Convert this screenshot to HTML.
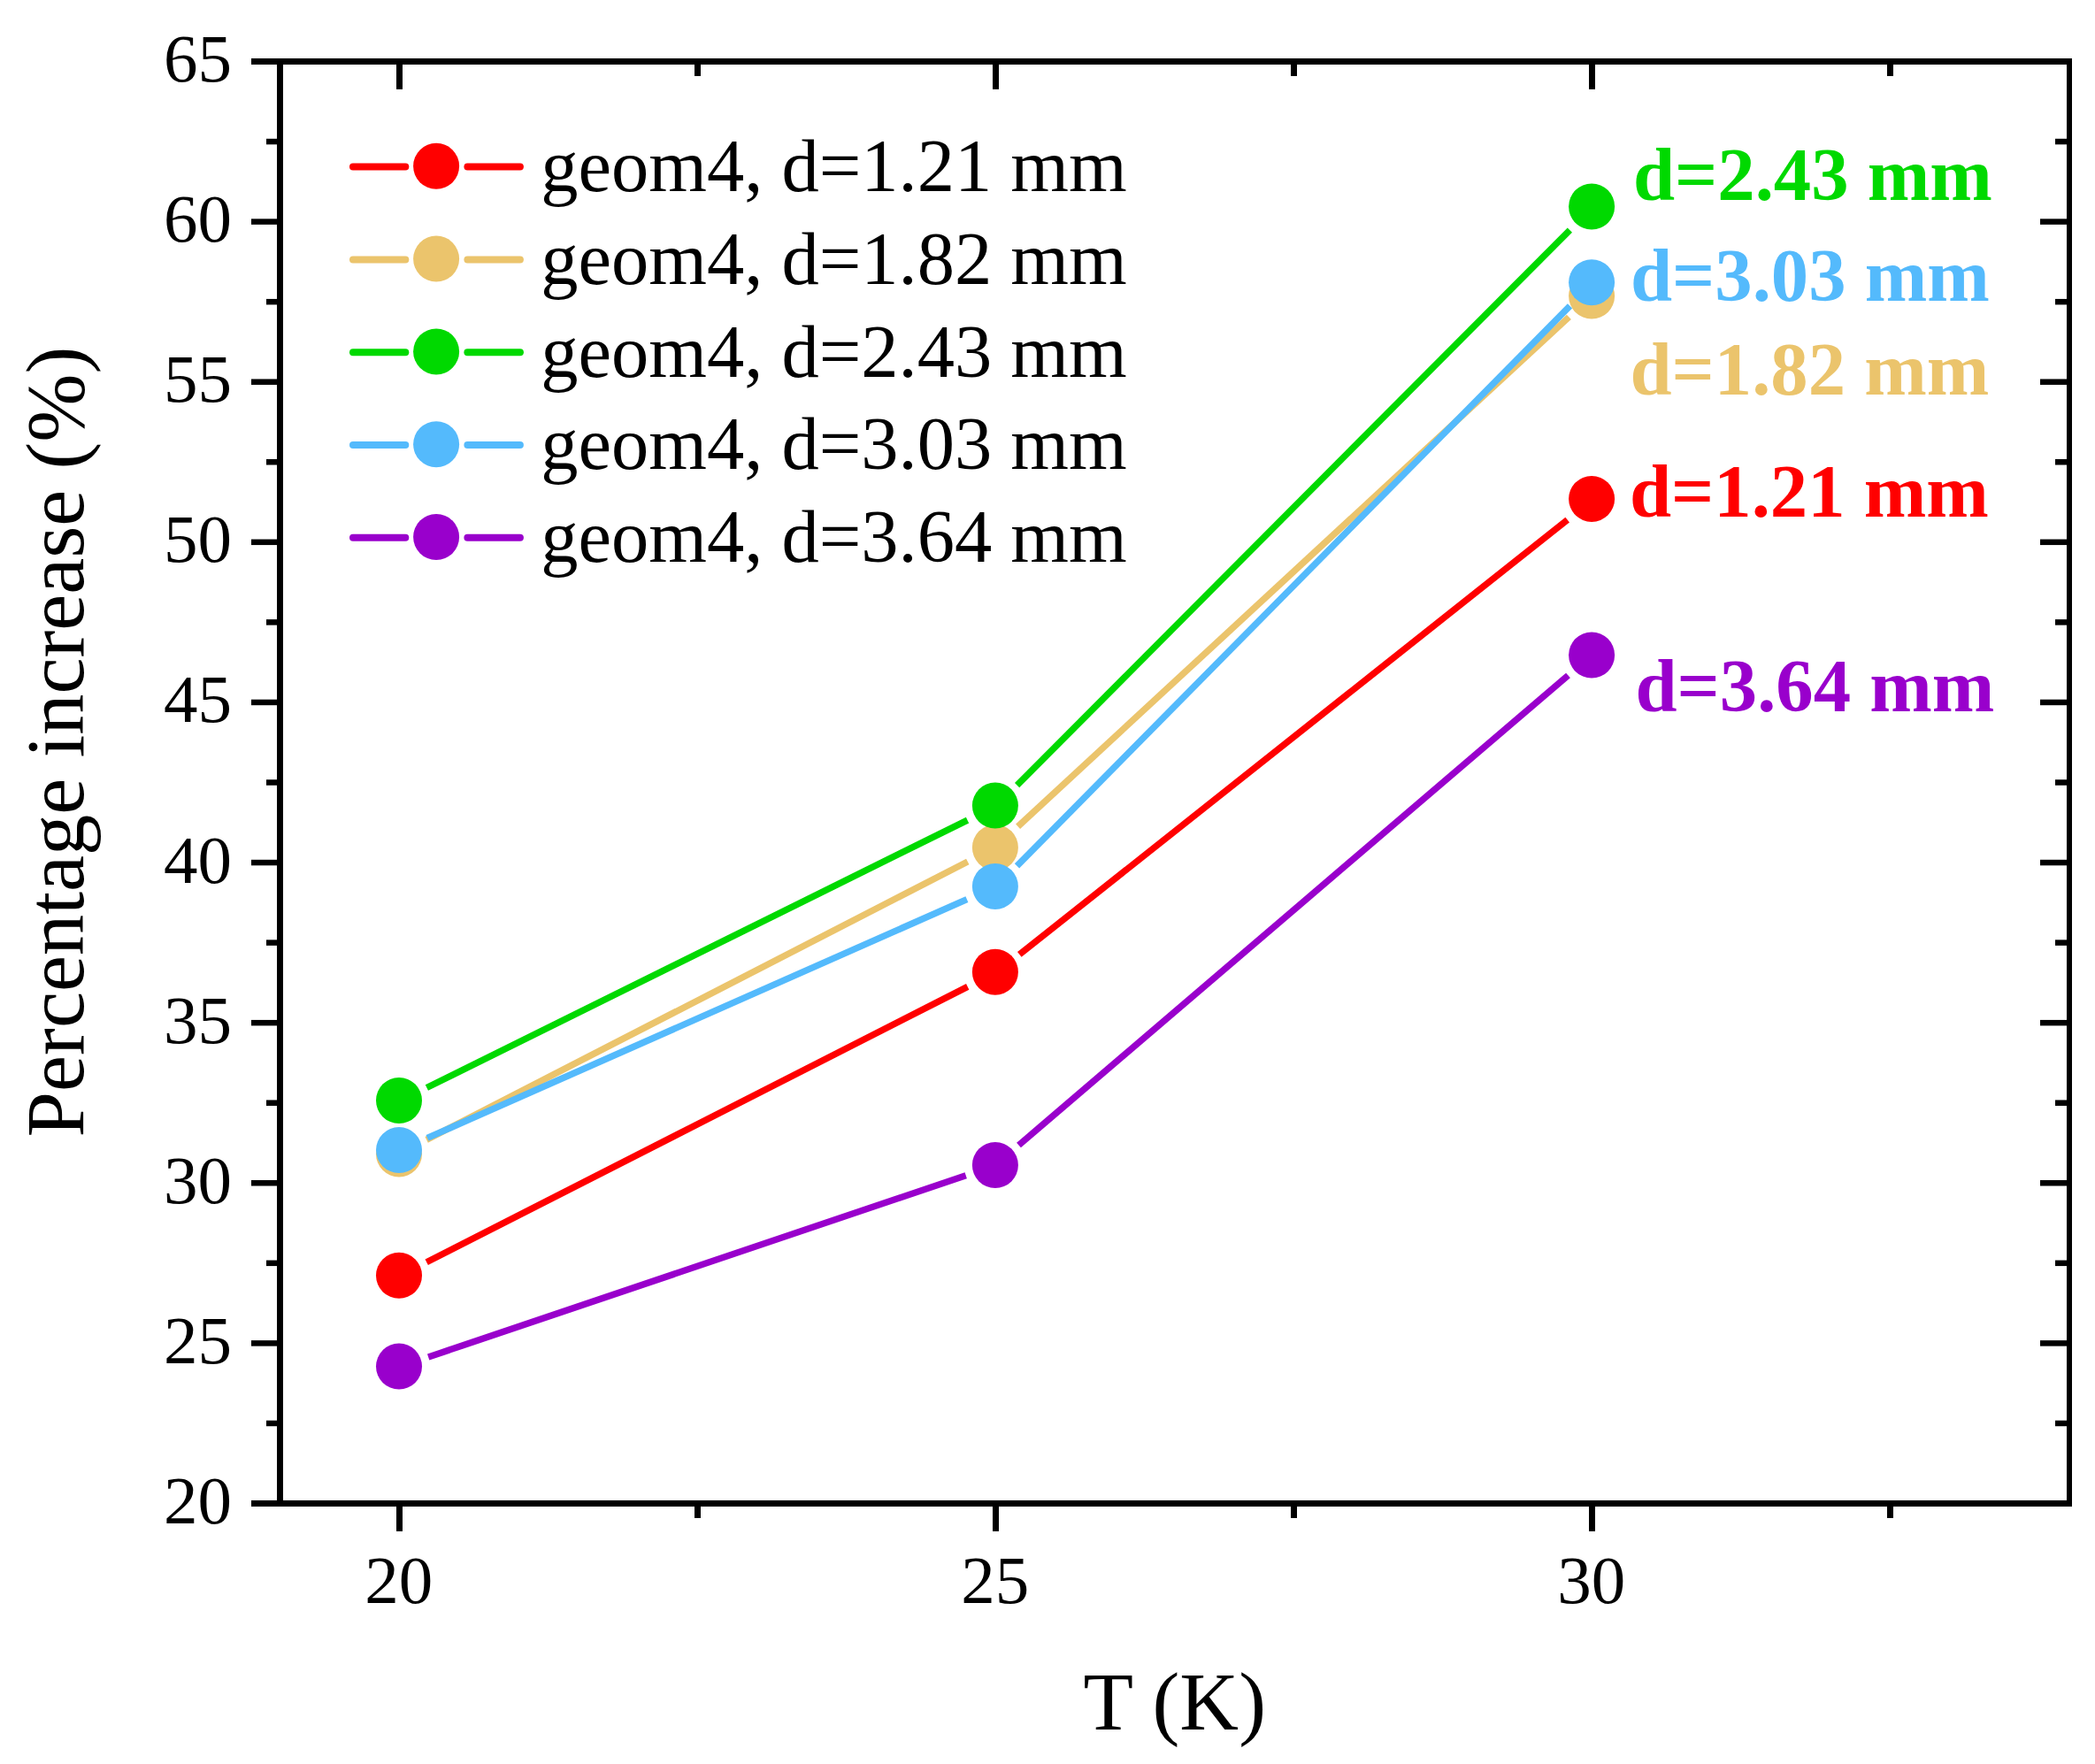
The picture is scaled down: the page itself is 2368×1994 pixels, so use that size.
<!DOCTYPE html>
<html lang="en"><head><meta charset="utf-8"><title>Percentage increase vs T</title>
<style>html,body{margin:0;padding:0;background:#fff;}svg{display:block;}text{font-family:"Liberation Serif", "Times New Roman", Times, serif;}</style></head><body>
<svg width="2368" height="1994" viewBox="0 0 2368 1994" role="img" aria-label="Percentage increase versus temperature">
<rect x="0" y="0" width="2368" height="1994" fill="#ffffff"/>
<g fill="#000000" shape-rendering="crispEdges">
<rect x="284" y="66" width="2058" height="7"/>
<rect x="284" y="1696" width="2058" height="7"/>
<rect x="313" y="66" width="7" height="1637"/>
<rect x="2336" y="66" width="6" height="1637"/>
</g>
<g fill="#000000">
<rect x="301" y="1605.69" width="12" height="6.50"/>
<rect x="2323" y="1605.69" width="13" height="6.50"/>
<rect x="284" y="1515.14" width="29" height="6.50"/>
<rect x="2306" y="1515.14" width="30" height="6.50"/>
<rect x="301" y="1424.58" width="12" height="6.50"/>
<rect x="2323" y="1424.58" width="13" height="6.50"/>
<rect x="284" y="1334.03" width="29" height="6.50"/>
<rect x="2306" y="1334.03" width="30" height="6.50"/>
<rect x="301" y="1243.47" width="12" height="6.50"/>
<rect x="2323" y="1243.47" width="13" height="6.50"/>
<rect x="284" y="1152.92" width="29" height="6.50"/>
<rect x="2306" y="1152.92" width="30" height="6.50"/>
<rect x="301" y="1062.36" width="12" height="6.50"/>
<rect x="2323" y="1062.36" width="13" height="6.50"/>
<rect x="284" y="971.81" width="29" height="6.50"/>
<rect x="2306" y="971.81" width="30" height="6.50"/>
<rect x="301" y="881.25" width="12" height="6.50"/>
<rect x="2323" y="881.25" width="13" height="6.50"/>
<rect x="284" y="790.69" width="29" height="6.50"/>
<rect x="2306" y="790.69" width="30" height="6.50"/>
<rect x="301" y="700.14" width="12" height="6.50"/>
<rect x="2323" y="700.14" width="13" height="6.50"/>
<rect x="284" y="609.58" width="29" height="6.50"/>
<rect x="2306" y="609.58" width="30" height="6.50"/>
<rect x="301" y="519.03" width="12" height="6.50"/>
<rect x="2323" y="519.03" width="13" height="6.50"/>
<rect x="284" y="428.47" width="29" height="6.50"/>
<rect x="2306" y="428.47" width="30" height="6.50"/>
<rect x="301" y="337.92" width="12" height="6.50"/>
<rect x="2323" y="337.92" width="13" height="6.50"/>
<rect x="284" y="247.36" width="29" height="6.50"/>
<rect x="2306" y="247.36" width="30" height="6.50"/>
<rect x="301" y="156.81" width="12" height="6.50"/>
<rect x="2323" y="156.81" width="13" height="6.50"/>
<rect x="448.00" y="73" width="7" height="28"/>
<rect x="448.00" y="1703" width="7" height="28"/>
<rect x="785.00" y="73" width="7" height="13"/>
<rect x="785.00" y="1703" width="7" height="13"/>
<rect x="1122.00" y="73" width="7" height="28"/>
<rect x="1122.00" y="1703" width="7" height="28"/>
<rect x="1459.00" y="73" width="7" height="13"/>
<rect x="1459.00" y="1703" width="7" height="13"/>
<rect x="1796.00" y="73" width="7" height="28"/>
<rect x="1796.00" y="1703" width="7" height="28"/>
<rect x="2133.00" y="73" width="7" height="13"/>
<rect x="2133.00" y="1703" width="7" height="13"/>
</g>
<g font-size="77" fill="#000000">
<text x="262" y="1722.0" text-anchor="end">20</text>
<text x="262" y="1540.9" text-anchor="end">25</text>
<text x="262" y="1359.8" text-anchor="end">30</text>
<text x="262" y="1178.7" text-anchor="end">35</text>
<text x="262" y="997.6" text-anchor="end">40</text>
<text x="262" y="816.4" text-anchor="end">45</text>
<text x="262" y="635.3" text-anchor="end">50</text>
<text x="262" y="454.2" text-anchor="end">55</text>
<text x="262" y="273.1" text-anchor="end">60</text>
<text x="262" y="92.0" text-anchor="end">65</text>
<text x="450.7" y="1811.5" text-anchor="middle">20</text>
<text x="1124.7" y="1811.5" text-anchor="middle">25</text>
<text x="1798.7" y="1811.5" text-anchor="middle">30</text>
</g>
<text x="1327.8" y="1954.5" font-size="92.5" text-anchor="middle" fill="#000">T (K)</text>
<text transform="translate(94.3,1285.4) rotate(-90)" font-size="92.5" fill="#000">Percentage increase (%)</text>
<line x1="482.19" y1="1426.72" x2="1093.71" y2="1115.38" stroke="#ff0000" stroke-width="7.4"/>
<line x1="1152.32" y1="1078.95" x2="1771.68" y2="587.65" stroke="#ff0000" stroke-width="7.4"/>
<circle cx="451.00" cy="1441.80" r="26.0" fill="#ff0000"/>
<circle cx="1124.90" cy="1098.70" r="26.0" fill="#ff0000"/>
<circle cx="1799.10" cy="563.90" r="26.0" fill="#ff0000"/>
<line x1="482.13" y1="1288.40" x2="1093.77" y2="974.00" stroke="#ebc46c" stroke-width="7.4"/>
<line x1="1150.60" y1="934.24" x2="1773.40" y2="358.36" stroke="#ebc46c" stroke-width="7.4"/>
<circle cx="451.00" cy="1304.40" r="26.0" fill="#ebc46c"/>
<circle cx="1124.90" cy="958.00" r="26.0" fill="#ebc46c"/>
<circle cx="1799.10" cy="334.60" r="26.0" fill="#ebc46c"/>
<line x1="482.37" y1="1229.48" x2="1093.53" y2="927.12" stroke="#00d900" stroke-width="7.4"/>
<line x1="1149.60" y1="887.60" x2="1774.40" y2="260.10" stroke="#00d900" stroke-width="7.4"/>
<circle cx="451.00" cy="1244.00" r="26.0" fill="#00d900"/>
<circle cx="1124.90" cy="910.60" r="26.0" fill="#00d900"/>
<circle cx="1799.10" cy="233.50" r="26.0" fill="#00d900"/>
<line x1="483.01" y1="1286.44" x2="1092.89" y2="1016.56" stroke="#54bafc" stroke-width="7.4"/>
<line x1="1149.49" y1="978.80" x2="1774.51" y2="345.90" stroke="#54bafc" stroke-width="7.4"/>
<circle cx="451.00" cy="1300.10" r="26.0" fill="#54bafc"/>
<circle cx="1124.90" cy="1001.90" r="26.0" fill="#54bafc"/>
<circle cx="1799.10" cy="319.20" r="26.0" fill="#54bafc"/>
<line x1="484.16" y1="1534.00" x2="1091.74" y2="1328.80" stroke="#9900cc" stroke-width="7.4"/>
<line x1="1151.50" y1="1294.45" x2="1772.50" y2="763.45" stroke="#9900cc" stroke-width="7.4"/>
<circle cx="451.00" cy="1544.60" r="26.0" fill="#9900cc"/>
<circle cx="1124.90" cy="1317.00" r="26.0" fill="#9900cc"/>
<circle cx="1799.10" cy="740.50" r="26.0" fill="#9900cc"/>
<g font-size="84.5" fill="#000000">
<line x1="399" y1="188.60" x2="458.3" y2="188.60" stroke="#ff0000" stroke-width="8" stroke-linecap="round"/>
<line x1="528.4" y1="188.60" x2="587.9" y2="188.60" stroke="#ff0000" stroke-width="8" stroke-linecap="round"/>
<circle cx="493.10" cy="187.80" r="26" fill="#ff0000"/>
<text x="611.2" y="216.0">geom4, d=1.21 mm</text>
<line x1="399" y1="293.40" x2="458.3" y2="293.40" stroke="#ebc46c" stroke-width="8" stroke-linecap="round"/>
<line x1="528.4" y1="293.40" x2="587.9" y2="293.40" stroke="#ebc46c" stroke-width="8" stroke-linecap="round"/>
<circle cx="493.10" cy="292.60" r="26" fill="#ebc46c"/>
<text x="611.2" y="320.8">geom4, d=1.82 mm</text>
<line x1="399" y1="398.20" x2="458.3" y2="398.20" stroke="#00d900" stroke-width="8" stroke-linecap="round"/>
<line x1="528.4" y1="398.20" x2="587.9" y2="398.20" stroke="#00d900" stroke-width="8" stroke-linecap="round"/>
<circle cx="493.10" cy="397.40" r="26" fill="#00d900"/>
<text x="611.2" y="425.6">geom4, d=2.43 mm</text>
<line x1="399" y1="503.00" x2="458.3" y2="503.00" stroke="#54bafc" stroke-width="8" stroke-linecap="round"/>
<line x1="528.4" y1="503.00" x2="587.9" y2="503.00" stroke="#54bafc" stroke-width="8" stroke-linecap="round"/>
<circle cx="493.10" cy="502.20" r="26" fill="#54bafc"/>
<text x="611.2" y="530.4">geom4, d=3.03 mm</text>
<line x1="399" y1="607.80" x2="458.3" y2="607.80" stroke="#9900cc" stroke-width="8" stroke-linecap="round"/>
<line x1="528.4" y1="607.80" x2="587.9" y2="607.80" stroke="#9900cc" stroke-width="8" stroke-linecap="round"/>
<circle cx="493.10" cy="607.00" r="26" fill="#9900cc"/>
<text x="611.2" y="635.2">geom4, d=3.64 mm</text>
</g>
<g font-size="84.7" font-weight="bold">
<text x="1846.0" y="226.4" fill="#00d900">d=2.43 mm</text>
<text x="1843.0" y="340.2" fill="#54bafc">d=3.03 mm</text>
<text x="1842.5" y="446.0" fill="#ebc46c">d=1.82 mm</text>
<text x="1842.0" y="583.5" fill="#ff0000">d=1.21 mm</text>
<text x="1848.5" y="803.6" fill="#9900cc">d=3.64 mm</text>
</g>
</svg></body></html>
